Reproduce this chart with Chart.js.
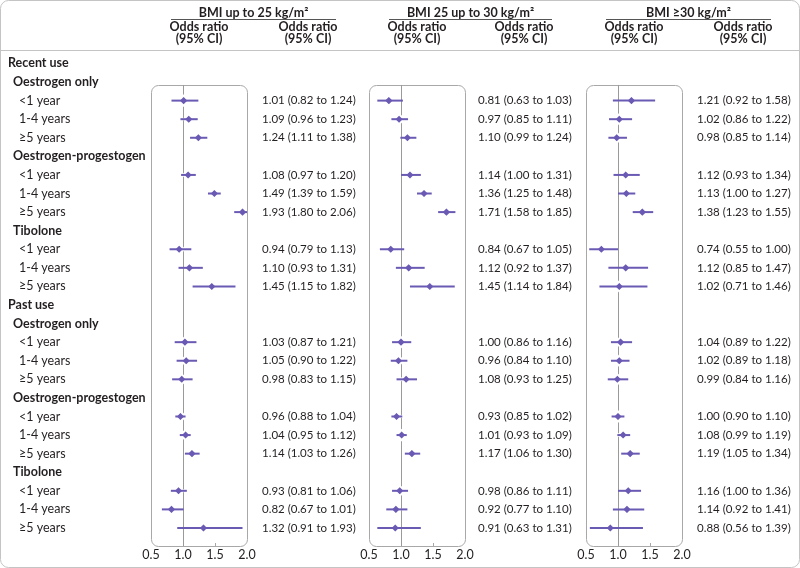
<!DOCTYPE html>
<html>
<head>
<meta charset="utf-8">
<script src="https://cdn.jsdelivr.net/npm/chart.js@4"></script>
<style>
  body { margin: 0; background: #fff; }
  #wrap { position: relative; width: 800px; height: 568px; }
  canvas { position: absolute; left: 0; top: 0; }
</style>
</head>
<body>
<div id="wrap">
  <canvas id="c1" width="800" height="568"></canvas>
  <canvas id="c2" width="800" height="568"></canvas>
  <canvas id="c3" width="800" height="568"></canvas>
</div>
<script>
// rows of the table, level 0 = period, 1 = treatment, 2 = duration (has data)
const rowLabels = [
  'Recent use',
  'Oestrogen only', '<1 year', '1-4 years', '≥5 years',
  'Oestrogen-progestogen', '<1 year', '1-4 years', '≥5 years',
  'Tibolone', '<1 year', '1-4 years', '≥5 years',
  'Past use',
  'Oestrogen only', '<1 year', '1-4 years', '≥5 years',
  'Oestrogen-progestogen', '<1 year', '1-4 years', '≥5 years',
  'Tibolone', '<1 year', '1-4 years', '≥5 years'
];
const rowLevels = [0, 1, 2, 2, 2, 1, 2, 2, 2, 1, 2, 2, 2, 0, 1, 2, 2, 2, 1, 2, 2, 2, 1, 2, 2, 2];

const panelTitles = ['BMI up to 25 kg/m²', 'BMI 25 up to 30 kg/m²', 'BMI ≥30 kg/m²'];
const xTicks = [0.5, 1.0, 1.5, 2.0];

// BMI up to 25
const orA = [1.01, 1.09, 1.24, 1.08, 1.49, 1.93, 0.94, 1.10, 1.45, 1.03, 1.05, 0.98, 0.96, 1.04, 1.14, 0.93, 0.82, 1.32];
const loA = [0.82, 0.96, 1.11, 0.97, 1.39, 1.80, 0.79, 0.93, 1.15, 0.87, 0.90, 0.83, 0.88, 0.95, 1.03, 0.81, 0.67, 0.91];
const hiA = [1.24, 1.23, 1.38, 1.20, 1.59, 2.06, 1.13, 1.31, 1.82, 1.21, 1.22, 1.15, 1.04, 1.12, 1.26, 1.06, 1.01, 1.93];
// BMI 25 up to 30
const orB = [0.81, 0.97, 1.10, 1.14, 1.36, 1.71, 0.84, 1.12, 1.45, 1.00, 0.96, 1.08, 0.93, 1.01, 1.17, 0.98, 0.92, 0.91];
const loB = [0.63, 0.85, 0.99, 1.00, 1.25, 1.58, 0.67, 0.92, 1.14, 0.86, 0.84, 0.93, 0.85, 0.93, 1.06, 0.86, 0.77, 0.63];
const hiB = [1.03, 1.11, 1.24, 1.31, 1.48, 1.85, 1.05, 1.37, 1.84, 1.16, 1.10, 1.25, 1.02, 1.09, 1.30, 1.11, 1.10, 1.31];
// BMI >=30
const orC = [1.21, 1.02, 0.98, 1.12, 1.13, 1.38, 0.74, 1.12, 1.02, 1.04, 1.02, 0.99, 1.00, 1.08, 1.19, 1.16, 1.14, 0.88];
const loC = [0.92, 0.86, 0.85, 0.93, 1.00, 1.23, 0.55, 0.85, 0.71, 0.89, 0.89, 0.84, 0.90, 0.99, 1.05, 1.00, 0.92, 0.56];
const hiC = [1.58, 1.22, 1.14, 1.34, 1.27, 1.55, 1.00, 1.47, 1.46, 1.22, 1.18, 1.16, 1.10, 1.19, 1.34, 1.36, 1.41, 1.39];

const PURPLE = '#6b5ab4';
const TEXT = '#231f20';
const FONT = 'Lato';

// panel geometry: plot box and the left edge of the text column
const panels = [
  { left: 151, right: 247, textX: 262 },
  { left: 369, right: 465, textX: 478 },
  { left: 586, right: 682, textX: 697 }
];

const dataRows = rowLevels.map((l, i) => l === 2 ? i : -1).filter(i => i >= 0);

function fmt(v) { return v.toFixed(2); }

// rounded box round the plot area, small tick at 1.5, and the odds ratio text column
const frame = {
  id: 'frame',
  beforeDraw(chart, args, opts) {
    const ctx = chart.ctx, a = chart.chartArea, x = chart.scales.x;
    ctx.save();
    ctx.strokeStyle = '#a8a8a8';
    ctx.lineWidth = 1;
    ctx.beginPath();
    ctx.roundRect(a.left + 0.5, a.top + 0.5, a.right - a.left, a.bottom - a.top, 7);
    ctx.stroke();
    const tx = Math.round(x.getPixelForValue(1.5)) + 0.5;
    ctx.beginPath();
    ctx.moveTo(tx, a.bottom + 0.5);
    ctx.lineTo(tx, a.bottom - 3);
    ctx.stroke();
    ctx.restore();
  },
  afterDraw(chart, args, opts) {
    const ctx = chart.ctx, y = chart.scales.y;
    ctx.save();
    ctx.fillStyle = TEXT;
    ctx.font = '11.5px ' + FONT;
    ctx.textBaseline = 'middle';
    ctx.textAlign = 'left';
    dataRows.forEach((r, k) => {
      const s = fmt(opts.or[k]) + ' (' + fmt(opts.lo[k]) + ' to ' + fmt(opts.hi[k]) + ')';
      ctx.fillText(s, opts.textX, y.getPixelForValue(r));
    });
    ctx.restore();
  }
};

const labels = {
  id: 'labels',
  afterDraw(chart) {
    const ctx = chart.ctx, y = chart.scales.y;
    ctx.save();
    // outer border and header rule
    ctx.strokeStyle = '#c4c4c4';
    ctx.lineWidth = 1;
    ctx.beginPath();
    ctx.roundRect(0.5, 0.5, 799, 567, 8);
    ctx.stroke();
    ctx.beginPath();
    ctx.moveTo(1, 50.5);
    ctx.lineTo(799, 50.5);
    ctx.stroke();

    ctx.fillStyle = TEXT;
    ctx.textBaseline = 'middle';
    // headers
    panels.forEach((p, i) => {
      const c1 = (p.left + p.right) / 2;
      const c2 = p.textX + 46;
      ctx.textAlign = 'center';
      ctx.font = 'bold 12.5px ' + FONT;
      ctx.fillText(panelTitles[i], (c1 + c2) / 2, 12.5);
      [c1, c2].forEach(c => {
        ctx.fillText('Odds ratio', c, 27);
        ctx.fillText('(95% CI)', c, 39);
      });
      ctx.strokeStyle = '#555';
      ctx.beginPath();
      ctx.moveTo(c1 - 28, 19.5);
      ctx.lineTo(c2 + 28, 19.5);
      ctx.stroke();
    });
    // row labels
    ctx.textAlign = 'left';
    rowLabels.forEach((t, i) => {
      const lvl = rowLevels[i];
      ctx.font = (lvl < 2 ? 'bold ' : '') + '12.5px ' + FONT;
      ctx.fillText(t, [8, 13, 19][lvl], y.getPixelForValue(i));
    });
    ctx.restore();
  }
};

function makePanel(id, p, or, lo, hi, extra) {
  // one short line per confidence interval
  const datasets = dataRows.map((r, k) => ({
    data: [{ x: lo[k], y: r }, { x: hi[k], y: r }],
    showLine: true,
    borderColor: PURPLE,
    borderWidth: 2,
    pointRadius: 0
  }));
  datasets.push({
    data: dataRows.map((r, k) => ({ x: or[k], y: r })),
    pointStyle: 'rectRot',
    pointRadius: 5,
    backgroundColor: PURPLE,
    borderColor: '#fff',
    borderWidth: 2
  });
  return new Chart(document.getElementById(id), {
    type: 'scatter',
    data: { datasets: datasets },
    options: {
      responsive: false,
      animation: false,
      devicePixelRatio: 1,
      layout: { padding: { left: p.left, right: 800 - p.right, top: 85, bottom: 5 } },
      plugins: {
        legend: { display: false },
        tooltip: { enabled: false },
        frame: { or: or, lo: lo, hi: hi, textX: p.textX }
      },
      scales: {
        x: {
          type: 'linear',
          min: 0.5,
          max: 2.0,
          afterBuildTicks: axis => { axis.ticks = xTicks.map(v => ({ value: v })); },
          ticks: {
            callback: v => v.toFixed(1),
            color: TEXT,
            font: { family: FONT, size: 12.5 },
            padding: 1,
            maxRotation: 0
          },
          grid: {
            drawTicks: false,
            color: ctx => (ctx.tick && ctx.tick.value === 1) ? '#9a9a9a' : 'rgba(0,0,0,0)'
          },
          border: { display: false }
        },
        y: {
          type: 'linear',
          display: false,
          reverse: true,
          min: 1.16,
          max: 25.97
        }
      }
    },
    plugins: extra ? [frame, labels] : [frame]
  });
}

makePanel('c1', panels[0], orA, loA, hiA, true);
makePanel('c2', panels[1], orB, loB, hiB, false);
makePanel('c3', panels[2], orC, loC, hiC, false);
</script>
</body>
</html>
